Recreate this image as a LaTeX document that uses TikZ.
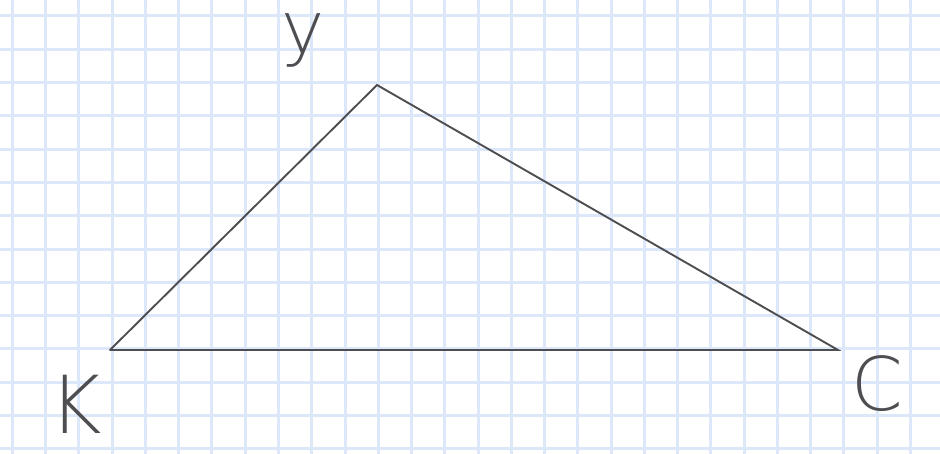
\documentclass[tikz,border=0pt]{standalone}
\usepackage{fontspec}
\newfontfamily\handfont{DejaVu Sans ExtraLight}
\usepackage{tikz}
\usetikzlibrary{positioning}
\definecolor{gridblue}{RGB}{220,232,250}
\definecolor{penink}{RGB}{78,78,82}
\tikzstyle{gridline} = [draw=gridblue, line width=3pt]
\tikzstyle{side} = [draw=penink, line width=1.9pt, line cap=round]
\tikzstyle{letter} = [inner sep=0pt, text=penink, anchor=base, font=\handfont]

\begin{document}
\begin{tikzpicture}[x=1pt, y=-1pt]

\fill[white] (0,0) rectangle (940,454);
\useasboundingbox (0,0) rectangle (940,454);

% squared paper
\foreach \i in {0,...,28} {
  \draw[gridline] (12.4+33.26*\i,0) -- (12.4+33.26*\i,454);
}
\foreach \j in {0,...,13} {
  \draw[gridline] (0,15.7+33.33*\j) -- (940,15.7+33.33*\j);
}

\coordinate (K) at (110,350);
\coordinate (Y) at (377,85);
\coordinate (C) at (838,350);

\draw[side] (K) -- (Y) -- (C) -- (K);

\node[letter, font=\handfont\fontsize{73}{73}\selectfont] (labY) at (303,54) {y};
\node[letter, font=\handfont\fontsize{80}{80}\selectfont] (labK) at (76,433) {K};
\node[letter, font=\handfont\fontsize{74}{74}\selectfont] (labC) at (877,410.5) {C};

\end{tikzpicture}
\end{document}
